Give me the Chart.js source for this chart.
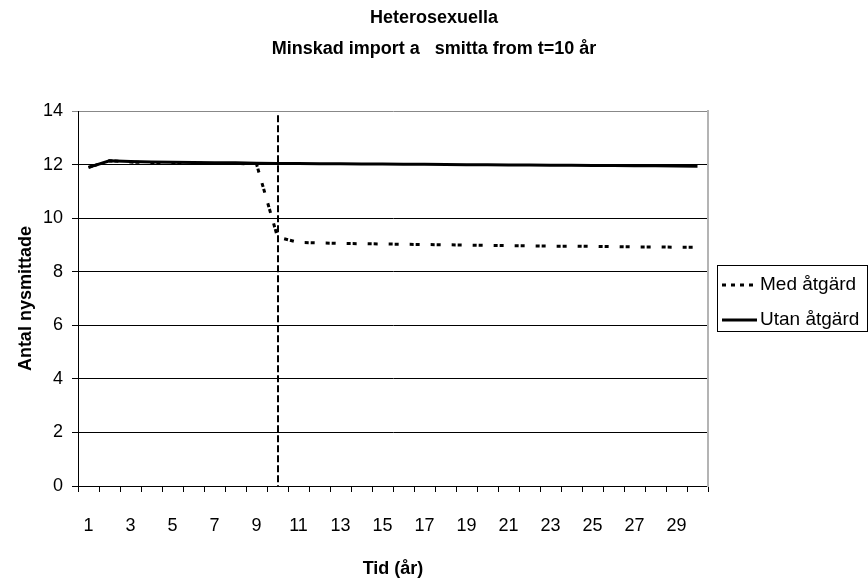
<!DOCTYPE html>
<html>
<head>
<meta charset="utf-8">
<script src="https://cdn.jsdelivr.net/npm/chart.js@4.4.1/dist/chart.umd.min.js"></script>
<style>
  html, body { margin: 0; padding: 0; background: #fff; }
  #wrap { width: 868px; height: 584px; }
</style>
</head>
<body>
<div id="wrap"><canvas id="chart" width="868" height="584"></canvas></div>
<script>
const years = ['1','2','3','4','5','6','7','8','9','10','11','12','13','14','15','16','17','18','19','20','21','22','23','24','25','26','27','28','29','30'];
const medAtgard = [11.9, 12.15, 12.1, 12.08, 12.07, 12.06, 12.05, 12.05, 12.03, 9.3, 9.1, 9.08, 9.06, 9.05, 9.04, 9.03, 9.02, 9.01, 9.0, 8.99, 8.98, 8.97, 8.96, 8.96, 8.95, 8.94, 8.93, 8.93, 8.92, 8.92];
const utanAtgard = [11.9, 12.15, 12.12, 12.1, 12.09, 12.08, 12.07, 12.07, 12.06, 12.05, 12.05, 12.04, 12.04, 12.03, 12.03, 12.02, 12.02, 12.01, 12.0, 12.0, 11.99, 11.99, 11.98, 11.98, 11.97, 11.97, 11.96, 11.96, 11.95, 11.94];
const interventionYear = '10';
const FONT = "'Liberation Sans', Arial, sans-serif";

// dashed vertical marker at the intervention year
const markerLine = {
  id: 'markerLine',
  afterDatasetsDraw(chart) {
    const ctx = chart.ctx;
    const x = chart.scales.x.getPixelForValue(years.indexOf(interventionYear));
    const area = chart.chartArea;
    ctx.save();
    ctx.strokeStyle = '#000';
    ctx.lineWidth = 2;
    ctx.setLineDash([7, 3]);
    ctx.beginPath();
    ctx.moveTo(Math.round(x), area.top + 4);
    ctx.lineTo(Math.round(x), area.bottom);
    ctx.stroke();
    ctx.restore();
  }
};

// boxed legend on the right, like the original
const boxLegend = {
  id: 'boxLegend',
  afterDraw(chart) {
    const ctx = chart.ctx;
    const left = 717.5, top = 265.5, w = 150, h = 66;
    ctx.save();
    ctx.strokeStyle = '#000';
    ctx.lineWidth = 1;
    ctx.strokeRect(left, top, w, h);
    const rows = [285, 320];
    chart.data.datasets.forEach((ds, i) => {
      const y = rows[i];
      ctx.beginPath();
      ctx.lineWidth = 3;
      ctx.strokeStyle = ds.borderColor;
      ctx.setLineDash(i === 0 ? [4, 5] : []);
      ctx.moveTo(722, y);
      ctx.lineTo(757, y);
      ctx.stroke();
      ctx.setLineDash([]);
      ctx.fillStyle = '#000';
      ctx.font = '19px ' + FONT;
      ctx.textBaseline = 'middle';
      ctx.fillText(ds.label, 760, y);
    });
    ctx.restore();
  }
};

new Chart(document.getElementById('chart'), {
  type: 'line',
  data: {
    labels: years,
    datasets: [
      {
        label: 'Med åtgärd',
        data: medAtgard,
        borderColor: '#000',
        borderWidth: 3,
        borderDash: [4, 2, 4, 11],
        pointRadius: 0,
        tension: 0,
        fill: false
      },
      {
        label: 'Utan åtgärd',
        data: utanAtgard,
        borderColor: '#000',
        borderWidth: 3,
        pointRadius: 0,
        tension: 0,
        fill: false
      }
    ]
  },
  options: {
    responsive: false,
    animation: false,
    layout: { padding: 0 },
    plugins: {
      legend: { display: false },
      tooltip: { enabled: false },
      title: {
        display: true,
        text: ['Heterosexuella', 'Minskad import a   smitta from t=10 år'],
        color: '#000',
        font: { family: FONT, size: 18, weight: 'bold', lineHeight: 1.7 },
        padding: { top: 3, bottom: 47 }
      }
    },
    scales: {
      x: {
        offset: true,
        grid: {
          offset: true,
          drawOnChartArea: false,
          color: '#000',
          tickLength: 6
        },
        border: { color: '#000', width: 1 },
        ticks: {
          autoSkip: false,
          maxRotation: 0,
          color: '#000',
          font: { family: FONT, size: 18 },
          padding: 23,
          callback: (v, i) => (i % 2 === 0 ? years[i] : '')
        },
        title: {
          display: true,
          text: 'Tid (år)',
          color: '#000',
          font: { family: FONT, size: 18, weight: 'bold' },
          padding: { top: 7 }
        },
        afterFit: s => { s.height = 98; }
      },
      y: {
        min: 0,
        max: 14,
        ticks: {
          stepSize: 2,
          color: '#000',
          font: { family: FONT, size: 18 },
          padding: 9
        },
        grid: {
          color: ctx => (ctx.tick && ctx.tick.value === 14 ? '#888' : '#000'),
          lineWidth: 1,
          tickLength: 6
        },
        border: { color: '#000', width: 1 },
        title: {
          display: true,
          text: 'Antal nysmittade',
          color: '#000',
          font: { family: FONT, size: 18, weight: 'bold' },
          padding: { top: 15 }
        },
        afterFit: s => { s.width = 78; }
      },
      edge: {
        type: 'linear',
        position: 'right',
        display: true,
        ticks: { display: false },
        grid: { display: false, drawTicks: false },
        border: { display: true, color: '#b4b4b4', width: 2 },
        afterFit: s => { s.width = 160; }
      }
    }
  },
  plugins: [markerLine, boxLegend]
});
</script>
</body>
</html>
